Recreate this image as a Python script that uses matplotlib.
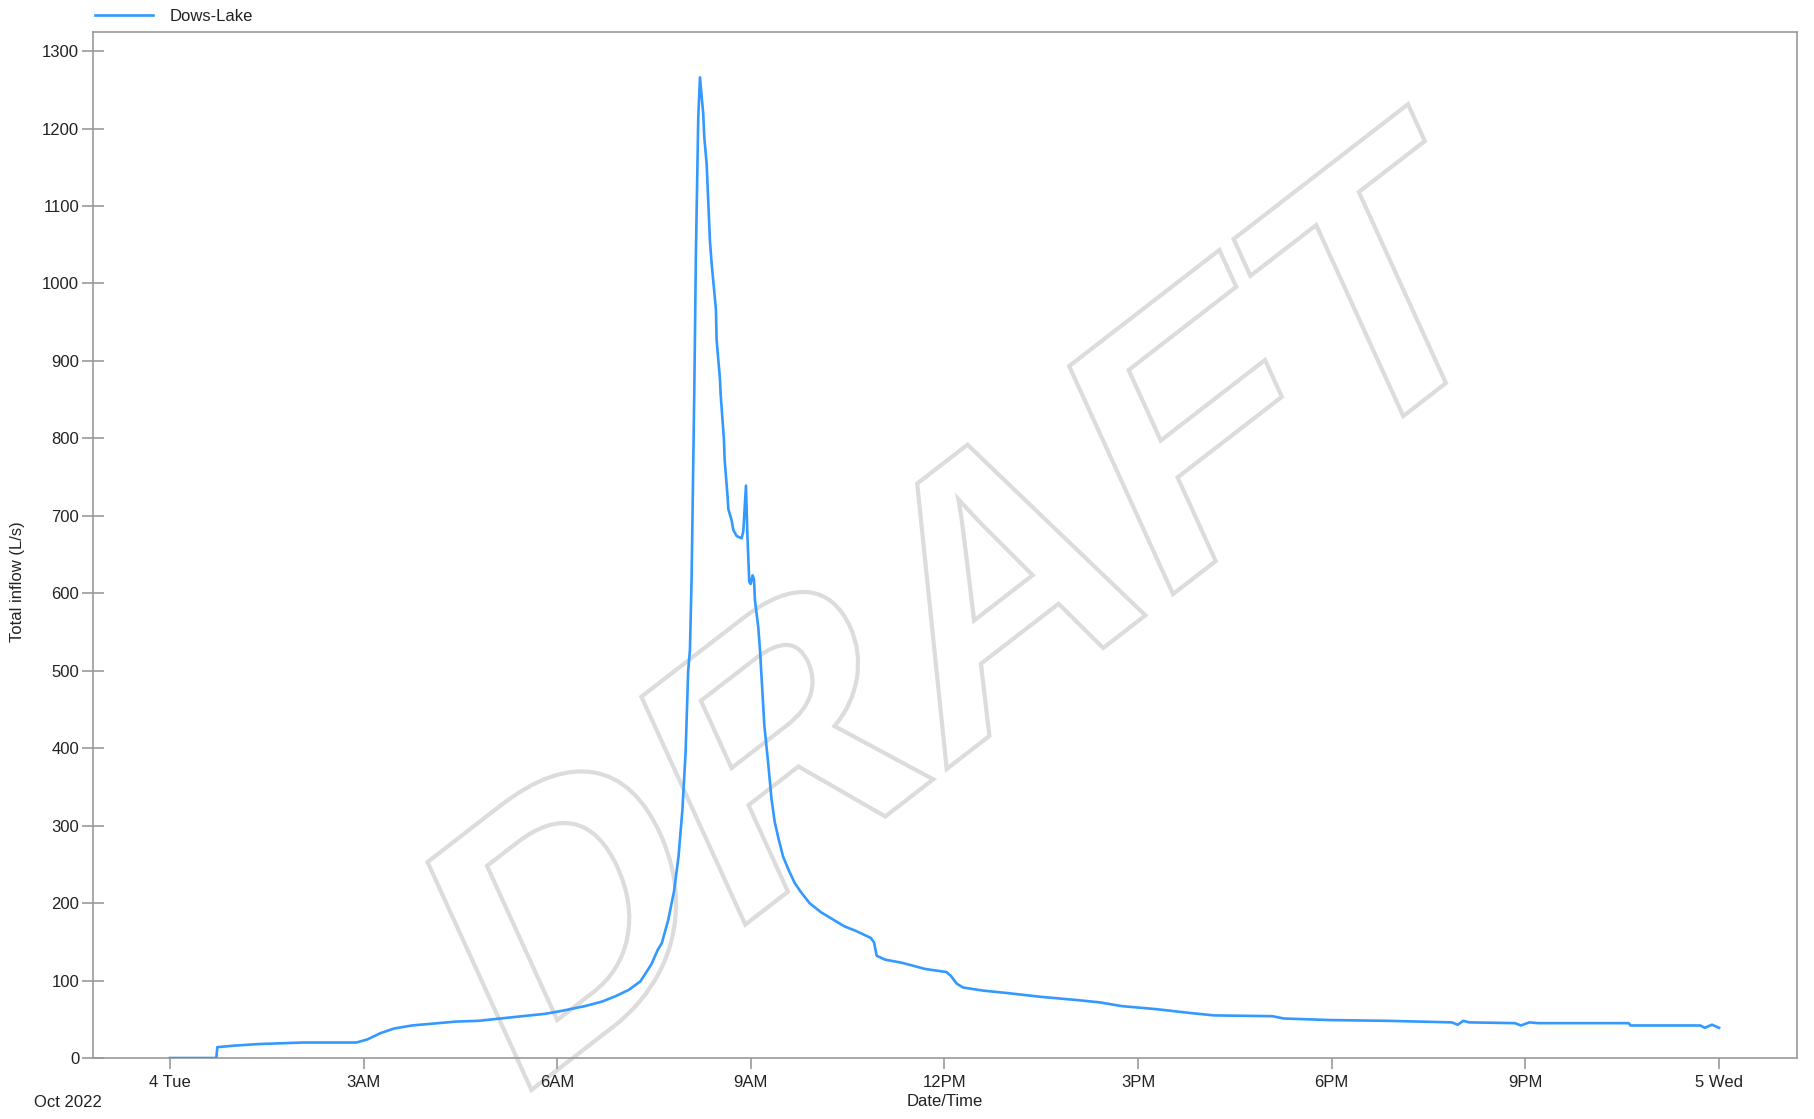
import numpy as np
import matplotlib
matplotlib.use('Agg')
import matplotlib.pyplot as plt
import matplotlib.patheffects as pe
from matplotlib.transforms import Affine2D

plt.rcParams['font.family'] = ['Liberation Sans', 'DejaVu Sans']

# Dows-Lake total inflow, hours after 4 Oct 2022 00:00
hours = [0.00, 0.72, 0.735, 1.00, 1.37, 2.06, 2.89, 3.06, 3.26, 3.47, 3.75, 4.02,
         4.43, 4.78, 5.12, 5.46, 5.81, 6.08, 6.43, 6.70, 6.91, 7.11, 7.29, 7.46,
         7.56, 7.62, 7.72, 7.81, 7.88, 7.94, 7.99, 8.03, 8.057, 8.083, 8.124, 8.150,
         8.186, 8.212, 8.263, 8.279, 8.316, 8.367, 8.393, 8.460, 8.470, 8.522, 8.532,
         8.584, 8.594, 8.641, 8.651, 8.703, 8.728, 8.780, 8.858, 8.884, 8.925, 8.945,
         8.976, 8.997, 9.028, 9.049, 9.064, 9.116, 9.142, 9.21, 9.27, 9.32, 9.37,
         9.43, 9.50, 9.59, 9.68, 9.77, 9.91, 10.09, 10.27, 10.45, 10.63, 10.86,
         10.91, 10.95, 11.08, 11.34, 11.70, 12.03, 12.10, 12.19, 12.29, 12.60, 12.96,
         13.49, 14.03, 14.39, 14.75, 15.29, 15.82, 16.18, 17.08, 17.26, 17.97, 18.87,
         19.86, 19.95, 20.04, 20.13, 20.84, 20.93, 21.06, 21.20, 22.60, 22.63, 23.71,
         23.78, 23.89, 24.00]
inflow = [0, 0, 14, 16, 18, 20, 20, 24, 32, 38, 42, 44,
          47, 48, 51, 54, 57, 61, 67, 73, 80, 88, 99, 121,
          140, 148, 178, 215, 260, 320, 395, 500, 527, 620, 858, 1041,
          1214, 1266, 1219, 1189, 1154, 1055, 1026, 966, 927, 877, 858,
          798, 773, 724, 709, 694, 682, 674, 671, 680, 739, 680,
          615, 612, 623, 618, 591, 556, 527, 429, 380, 335, 305,
          283, 260, 242, 226, 215, 200, 188, 179, 170, 164, 155,
          149, 132, 127, 123, 115, 111, 106, 96, 91, 87, 84,
          79, 75, 72, 67, 63, 58, 55, 54, 51, 49, 48,
          46, 43, 48, 46, 45, 42, 46, 45, 45, 42, 42,
          39, 43, 39]

tick_hours = [0, 3, 6, 9, 12, 15, 18, 21, 24]
tick_labels = ['4 Tue', '3AM', '6AM', '9AM', '12PM', '3PM', '6PM', '9PM', '5 Wed']
y_ticks = list(range(0, 1301, 100))


class SkewedOutline(pe.AbstractPathEffect):
    """Outline a text path after slanting it around the text anchor."""

    def __init__(self, matrix, **kw):
        super().__init__()
        self.matrix = matrix
        self.inner = pe.PathPatchEffect(**kw)
        self.text = None

    def draw_path(self, renderer, gc, tpath, affine, rgbFace=None):
        x0, y0 = self.text.get_transform().transform(self.text.get_position())
        m = np.array([[self.matrix[0][0], self.matrix[0][1], 0],
                      [self.matrix[1][0], self.matrix[1][1], 0],
                      [0, 0, 1]])
        extra = Affine2D().translate(-x0, -y0) + Affine2D(m) + Affine2D().translate(x0, y0)
        self.inner.draw_path(renderer, gc, tpath, affine + extra, rgbFace)


fig = plt.figure(figsize=(18.14, 11.19), dpi=100)
ax = fig.add_axes([0.0513, 0.0545, 0.9394, 0.9165])

ax.plot(hours, inflow, color='#3399ff', lw=1.9, label='Dows-Lake', zorder=3)

ax.set_xlim(-1.19, 25.21)
ax.set_ylim(0, 1324)
ax.set_xticks(tick_hours)
ax.set_xticklabels(tick_labels)
ax.set_yticks(y_ticks)

for s in ax.spines.values():
    s.set_color('#999999')
    s.set_linewidth(1.2)
ax.tick_params(axis='y', direction='inout', length=16, width=1.2, color='#999999',
               labelsize=12, labelcolor='#222222', pad=2)
ax.tick_params(axis='x', direction='out', length=8, width=1.2, color='#999999',
               labelsize=12, labelcolor='#222222', pad=4)
ax.set_xlabel('Date/Time', fontsize=12, color='#222222', labelpad=3)
fig.text(0.0095, 0.48, 'Total inflow (L/s)', rotation=90, fontsize=12,
         color='#222222', ha='center', va='center')
fig.text(0.019, 0.0143, 'Oct 2022', fontsize=12, color='#222222', va='center')

leg = ax.legend(loc='lower left', bbox_to_anchor=(0.0, 1.007), frameon=False,
                fontsize=12, handlelength=3.5, handletextpad=1.0,
                borderaxespad=0.0, borderpad=0.1)
for t in leg.get_texts():
    t.set_color('#222222')

# DRAFT watermark (slanted outline text)
ang = np.deg2rad(37.7)
slant = np.deg2rad(24.5)
su, sv = 1.10, 1.07
skew_m = [[np.cos(ang) * su, -np.sin(slant) * sv],
          [np.sin(ang) * su, np.cos(slant) * sv]]
wm_fx = SkewedOutline(skew_m, edgecolor='#dcdcdc', facecolor='none', linewidth=3)
wm = ax.text(0.5586, 0.3588, 'DRAFT', transform=fig.transFigure, ha='center',
             va='baseline', fontsize=245, fontweight='bold', clip_on=False,
             zorder=1, path_effects=[wm_fx])
wm_fx.text = wm

fig.savefig('out.png', dpi=100)
